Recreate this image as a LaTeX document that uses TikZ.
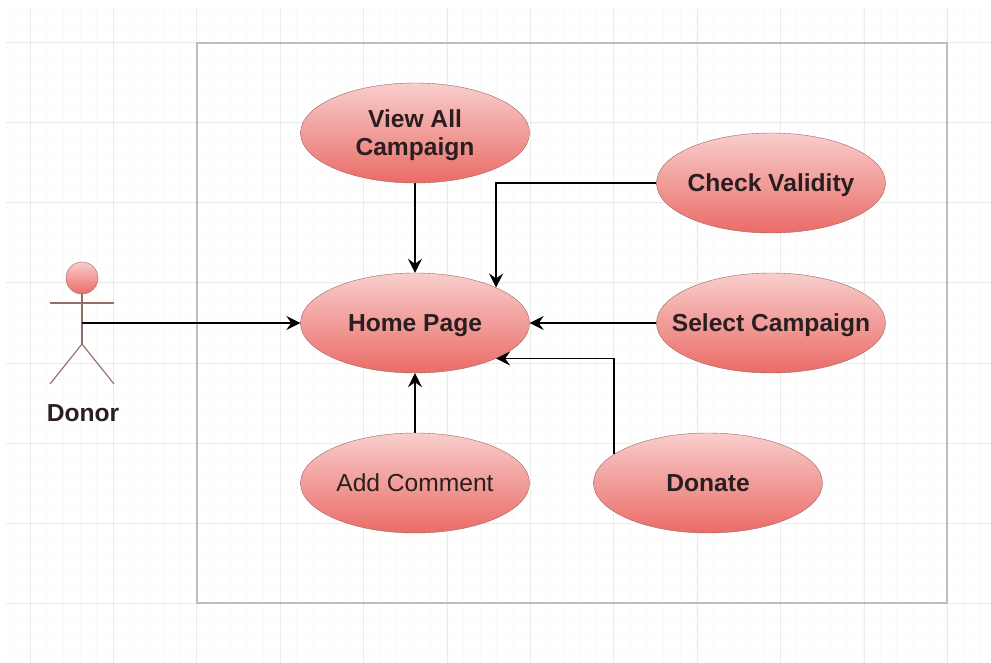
\documentclass[tikz,border=0pt]{standalone}
\usepackage{fontspec}
\setmainfont{Liberation Sans}
\usetikzlibrary{shapes.geometric, arrows.meta, positioning, calc}
\definecolor{mTop}{HTML}{F8CECC}
\definecolor{mBottom}{HTML}{EA6B66}
\definecolor{mEdge}{HTML}{A0635F}
\definecolor{mText}{HTML}{2A1E20}
\definecolor{mMajor}{HTML}{EAECEC}
\definecolor{mMinor}{HTML}{F9FAFA}
\definecolor{mFrame}{HTML}{BDBDBD}
\begin{document}
\begin{tikzpicture}[
    x=1pt, y=-1pt,
    usecase/.style={ellipse, draw=mEdge, top color=mTop, bottom color=mBottom, text=mText, text centered, minimum width=229pt, minimum height=100pt, inner ysep=0pt, inner xsep=-40pt, font=\fontsize{24.6}{28}\selectfont\bfseries, align=center},
    oneline/.style={text height=22.9pt, text depth=5.3pt},
    arrow/.style={-{Stealth[length=14pt,width=14pt,inset=5pt]},black,line width=1.6pt},
    limb/.style={draw=mEdge!70!gray, line width=1.1pt}
]
    \useasboundingbox (0,0) rectangle (991,663);
    % grid
    \foreach \i in {0,...,59} \draw[mMinor, line width=0.7pt] ({13.3+\i*16.67},8) -- ({13.3+\i*16.67},663);
    \foreach \j in {0,...,40} \draw[mMinor, line width=0.7pt] (6,{11+\j*16}) -- (991,{11+\j*16});
    \foreach \i in {0,...,11} \draw[mMajor, line width=1pt] ({30+\i*83.4},8) -- ({30+\i*83.4},663);
    \foreach \j in {0,...,7} \draw[mMajor, line width=1pt] (6,{43+\j*80}) -- (991,{43+\j*80});
    \node[draw=mFrame, line width=1.2pt, minimum width=750pt, minimum height=560pt, inner sep=0pt] (frame) at (572,323) {};

    \node[usecase, text depth=1pt] (view) at (415,133) {View All\\Campaign};
    \node[usecase, oneline] (home) at (415,323) {Home Page};
    \node[usecase, oneline] (check) at (771,183) {Check Validity};
    \node[usecase, oneline] (select) at (771,323) {Select Campaign};
    \node[usecase, oneline, font=\fontsize{24.6}{28}\selectfont] (comment) at (415,483) {Add Comment};
    \node[usecase, oneline] (donate) at (708,483) {Donate};

    % actor
    \node[circle, draw=mEdge, top color=mTop, bottom color=mBottom, minimum size=32pt, inner sep=0pt] (head) at (82,278) {};
    \coordinate (hip) at (82,344);
    \coordinate (waist) at (82,323);
    \draw[limb] (head.south) -- (hip);
    \draw[limb] (50,303) -- (114,303);
    \draw[limb] (50,384) -- (hip) -- (114,384);
    \node[text=mText, font=\fontsize{24.6}{28}\selectfont\bfseries] (donor) at (83,413) {Donor};

    \draw[arrow] (waist) -- (home.west);
    \draw[arrow] (view.south) -- (home.north);
    \draw[arrow] (check.west) -| (home.north east);
    \draw[arrow] (select.west) -- (home.east);
    \draw[arrow] (comment.north) -- (home.south);
    \draw[arrow] (donate.163) |- (home.south east);
\end{tikzpicture}
\end{document}
